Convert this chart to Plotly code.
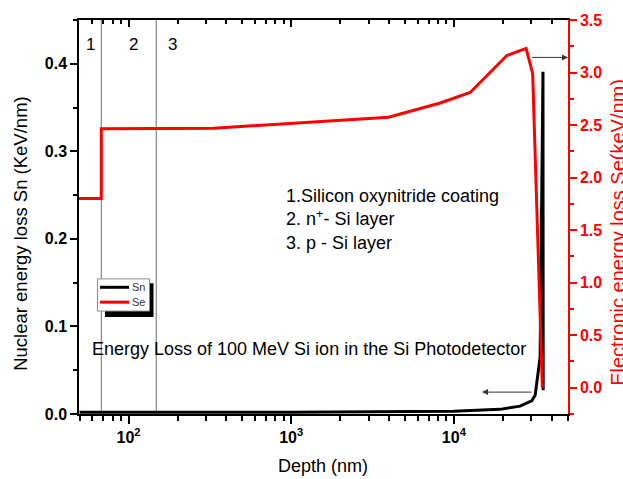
import numpy as np
import plotly.graph_objects as go

# Depth (nm) and stopping powers for 100 MeV Si ions in the Si photodetector
sn_depth = [50, 1000, 10000, 13800, 19200, 25500, 30100, 31600, 33900, 35300, 35400]
sn_vals = [0.002, 0.002, 0.003, 0.0045, 0.0053, 0.009, 0.015, 0.0215, 0.065, 0.391, 0.027]

se_depth = [49.6, 68, 68, 335, 3970, 8240, 12600, 21100, 27800, 30500, 35000]
se_vals = [1.80, 1.80, 2.465, 2.47, 2.575, 2.71, 2.81, 3.16, 3.23, 2.99, 0.0]

# Layer boundaries (nm) and layer numbers
boundaries = [68, 148]
layer_labels = ["1", "2", "3"]
layer_label_depth = [58, 108, 187]

x_range = [49.6, 50300]
sn_range = [0, 0.45]
se_range = [-0.25, 3.5]

major_x = [100, 1000, 10000]
major_x_text = ["10<sup>2</sup>", "10<sup>3</sup>", "10<sup>4</sup>"]
minor_x = [m * 10 ** e for e in range(1, 5) for m in range(2, 10)]
minor_x = [v for v in minor_x if x_range[0] <= v <= x_range[1]]

FONT = "Liberation Sans, Arial, sans-serif"
lx = np.log10

W, H = 623, 479
ML, MR, MT, MB = 79, 55, 16, 65
PW, PH = W - ML - MR, H - MT - MB


def px(x):
    """pixel column -> paper fraction"""
    return (x - ML) / PW


def py(y):
    """pixel row -> paper fraction"""
    return (H - MB - y) / PH


fig = go.Figure()

for b in boundaries:
    fig.add_trace(go.Scatter(x=[b, b], y=sn_range, mode="lines",
                             line=dict(color="#6e6e6e", width=1),
                             showlegend=False, hoverinfo="skip"))

fig.add_trace(go.Scatter(x=sn_depth, y=sn_vals, mode="lines", name="Sn",
                         line=dict(color="black", width=3), showlegend=False))
fig.add_trace(go.Scatter(x=se_depth, y=se_vals, mode="lines", name="Se",
                         line=dict(color="#ff0000", width=3), yaxis="y2",
                         showlegend=False))

# invisible point so the top axis is drawn
fig.add_trace(go.Scatter(x=[x_range[0]], y=[0], xaxis="x2", mode="markers",
                         marker=dict(opacity=0), showlegend=False, hoverinfo="skip"))

tick_font = dict(family=FONT, size=16, color="black", weight="bold")

fig.update_layout(
    width=W, height=H,
    margin=dict(l=ML, r=MR, t=MT, b=MB),
    paper_bgcolor="white", plot_bgcolor="white",
    font=dict(family=FONT, color="black"),
    xaxis=dict(type="log", range=[lx(x_range[0]), lx(x_range[1])],
               showgrid=False, zeroline=False,
               showline=True, linecolor="black", linewidth=2,
               ticks="outside", ticklen=8, tickwidth=1.5, tickcolor="black",
               tickvals=major_x, ticktext=major_x_text, tickfont=tick_font,
               minor=dict(ticks="outside", ticklen=5, tickwidth=1.5,
                          tickcolor="black", tickmode="array",
                          tickvals=minor_x, showgrid=False)),
    xaxis2=dict(type="log", range=[lx(x_range[0]), lx(x_range[1])],
                overlaying="x", side="top", anchor="y",
                showgrid=False, zeroline=False, showticklabels=False,
                showline=True, linecolor="black", linewidth=1.5,
                ticks="inside", ticklen=7, tickwidth=1.5, tickcolor="black",
                tickvals=major_x,
                minor=dict(ticks="inside", ticklen=4, tickwidth=1.5,
                           tickcolor="black", tickmode="array",
                           tickvals=minor_x, showgrid=False)),
    yaxis=dict(range=sn_range, showgrid=False, zeroline=False,
               showline=True, linecolor="black", linewidth=1.5,
               ticks="outside", ticklen=7, tickwidth=1.5, tickcolor="black",
               tickmode="array", tickvals=[0, 0.1, 0.2, 0.3, 0.4],
               tickformat=".1f", tickfont=tick_font,
               minor=dict(ticks="outside", ticklen=4, tickwidth=1.5,
                          tickcolor="black", dtick=0.05, showgrid=False)),
    yaxis2=dict(range=se_range, overlaying="y", side="right", anchor="x",
                showgrid=False, zeroline=False,
                showline=True, linecolor="#ff0000", linewidth=1.5,
                ticks="outside", ticklen=7, tickwidth=1.5, tickcolor="#ff0000",
                tickmode="array", tickvals=[0, 0.5, 1, 1.5, 2, 2.5, 3, 3.5],
                tickformat=".1f",
                tickfont=dict(family=FONT, size=16, color="#ff0000", weight="bold"),
                minor=dict(ticks="outside", ticklen=4, tickwidth=1.5,
                           tickcolor="#ff0000", dtick=0.25, showgrid=False)),
)

ann = []
# axis titles
ann.append(dict(text="Depth (nm)", xref="paper", yref="paper", x=px(323), y=py(467),
                showarrow=False, font=dict(size=18, family=FONT),
                xanchor="center", yanchor="middle"))
ann.append(dict(text="Nuclear energy loss Sn (KeV/nm)", xref="paper", yref="paper",
                x=px(21), y=py(232), textangle=-90, showarrow=False,
                font=dict(size=18.5, family=FONT), xanchor="center", yanchor="middle"))
ann.append(dict(text="Electronic energy loss Se(keV/nm)", xref="paper", yref="paper",
                x=px(618), y=py(231), textangle=-90, showarrow=False,
                font=dict(size=20, family=FONT, color="#ff0000"),
                xanchor="center", yanchor="middle"))

# layer numbers
for lab, d in zip(layer_labels, layer_label_depth):
    ann.append(dict(text=lab, x=lx(d), y=0.422, xref="x", yref="y",
                    showarrow=False, font=dict(size=17, family=FONT),
                    xanchor="center", yanchor="middle"))

# layer description
ann.append(dict(text="1.Silicon oxynitride coating<br>2. n<sup>+</sup>- Si layer<br>3. p - Si layer",
                x=px(284), y=py(182), xref="paper", yref="paper", showarrow=False,
                align="left", font=dict(size=18, family=FONT),
                xanchor="left", yanchor="top"))
ann.append(dict(text="Energy Loss of 100 MeV Si ion in the Si Photodetector",
                x=px(309), y=py(348), xref="paper", yref="paper", showarrow=False,
                font=dict(size=18, family=FONT), xanchor="center", yanchor="middle"))

# arrows pointing each curve to its axis
ann.append(dict(text="", x=lx(x_range[1]), y=3.144, xref="x", yref="y2",
                ax=lx(29600), ay=3.144, axref="x", ayref="y2",
                showarrow=True, arrowhead=2, arrowsize=1.2, arrowwidth=1,
                arrowcolor="#333333", standoff=0))
ann.append(dict(text="", x=lx(14900), y=0.025, xref="x", yref="y",
                ax=lx(30700), ay=0.025, axref="x", ayref="y",
                showarrow=True, arrowhead=2, arrowsize=1.2, arrowwidth=1,
                arrowcolor="#333333", standoff=0))

# legend box with drop shadow
shapes = [
    dict(type="rect", xref="paper", yref="paper", x0=px(105), x1=px(153.5),
         y0=py(316), y1=py(282), fillcolor="black", line=dict(width=0), layer="above"),
    dict(type="rect", xref="paper", yref="paper", x0=px(97.5), x1=px(149.5),
         y0=py(310), y1=py(277.5), fillcolor="white",
         line=dict(color="#8a8a8a", width=1), layer="above"),
    dict(type="line", xref="paper", yref="paper", x0=px(100), x1=px(129),
         y0=py(286), y1=py(286), line=dict(color="black", width=3), layer="above"),
    dict(type="line", xref="paper", yref="paper", x0=px(100), x1=px(129),
         y0=py(301), y1=py(301), line=dict(color="#ff0000", width=3), layer="above"),
]
for name, yy in (("Sn", 286), ("Se", 301)):
    ann.append(dict(text=name, x=px(130), y=py(yy), xref="paper", yref="paper",
                    showarrow=False, font=dict(size=11, family=FONT, color="#333333"),
                    xanchor="left", yanchor="middle"))

fig.update_layout(annotations=ann, shapes=shapes)
fig.write_html("out.html")
